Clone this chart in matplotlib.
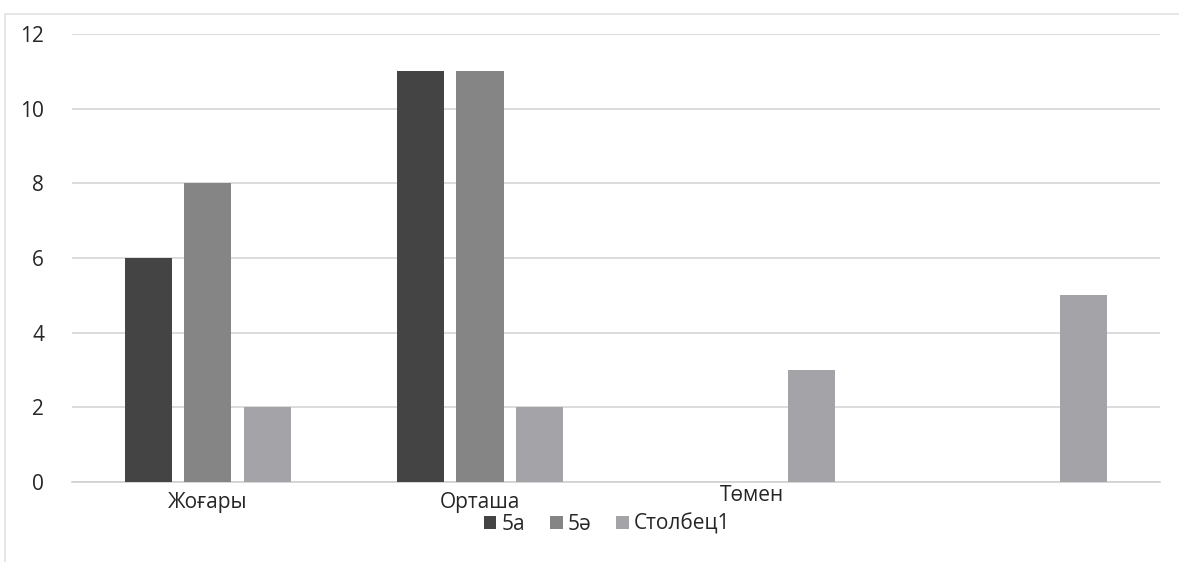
import numpy as np
import matplotlib.pyplot as plt
from matplotlib.patches import Rectangle
from matplotlib.transforms import ScaledTranslation

plt.rcParams['font.family'] = ['Open Sans', 'DejaVu Sans']

# --- DATA ---
categories = ['Жоғары', 'Орташа', 'Төмен', '']
series_names = ['5а', '5ә', 'Столбец1']
vals_5a = [6, 11, 0, 0]
vals_5ae = [8, 11, 0, 0]
vals_col1 = [2, 2, 3, 5]
y_ticks = [0, 2, 4, 6, 8, 10, 12]

colors = ['#444444', '#858585', '#a3a3a8']

# --- PLOT ---
fig = plt.figure(figsize=(11.79, 5.62), dpi=100)
ax = fig.add_axes([0.061, 0.1423, 0.923, 0.7972])

x = np.arange(len(categories))
offset = 0.22
width = 0.173
for i, (vals, name) in enumerate(zip([vals_5a, vals_5ae, vals_col1], series_names)):
    ax.bar(x + (i - 1) * offset, vals, width, color=colors[i], label=name, zorder=3)

ax.set_xlim(-0.5, len(categories) - 0.5)
ax.set_ylim(0, 12)
ax.set_yticks(y_ticks)
ax.set_xticks(x)
ax.set_xticklabels(categories)
ax.yaxis.grid(True, color='#d6d6d6', lw=1.2, zorder=0)
ax.set_axisbelow(True)
for s in ['top', 'right', 'left']:
    ax.spines[s].set_visible(False)
ax.spines['bottom'].set_color('#d0d0d0')
ax.spines['bottom'].set_linewidth(1.2)
ax.tick_params(axis='y', length=0, pad=20, labelsize=15, labelcolor='#262626')
ax.tick_params(axis='x', length=0, pad=7, labelsize=15, labelcolor='#262626')

# the third category label sits a little higher in the scan
lbl = ax.get_xticklabels()[2]
lbl.set_transform(lbl.get_transform() + ScaledTranslation(0, 5 / 72, fig.dpi_scale_trans))

# legend below the axis
fig.legend(loc='lower center', bbox_to_anchor=(0.515, 0.015), ncol=3, frameon=False,
           fontsize=15, handlelength=0.6, handleheight=0.6, handletextpad=0.25,
           columnspacing=1.2, labelcolor='#262626')

# faint scan border
fig.patches.append(Rectangle((0.004, -0.01), 1.1, 0.985, transform=fig.transFigure,
                             fill=False, edgecolor='#e2e2e2', lw=1.2))

plt.savefig('out.png', dpi=100, facecolor='white')
plt.close()
